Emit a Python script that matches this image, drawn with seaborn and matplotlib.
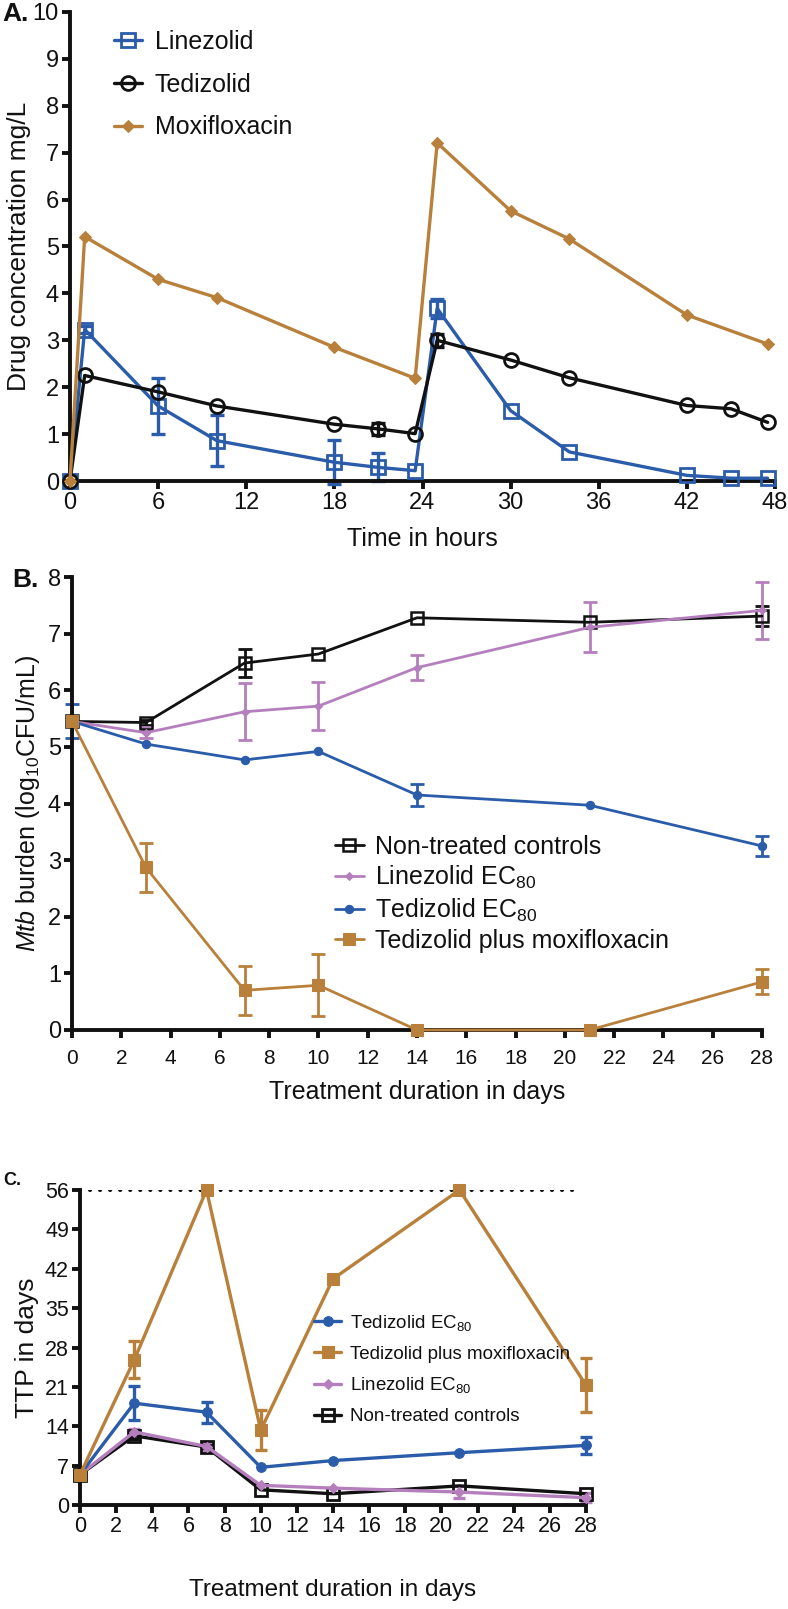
import numpy as np
import pandas as pd
import matplotlib.pyplot as plt
import seaborn as sns

# ---- Panel A: drug concentrations (mg/L) ----
pk_hours = [0, 1, 6, 10, 18, 21, 23.5, 25, 30, 34, 42, 45, 47.5]
lzd_conc = [0, 3.23, 1.6, 0.86, 0.4, 0.29, 0.22, 3.68, 1.5, 0.62, 0.12, 0.06, 0.06]
lzd_err = [0, 0.08, 0.6, 0.55, 0.47, 0.3, 0, 0.2, 0, 0, 0, 0, 0]
tzd_conc = [0, 2.25, 1.9, 1.6, 1.21, 1.11, 1.01, 3.0, 2.58, 2.2, 1.61, 1.54, 1.25]
tzd_err = [0, 0, 0, 0, 0, 0.13, 0, 0.14, 0, 0, 0, 0, 0]
moxi_hours = [0, 1, 6, 10, 18, 23.5, 25, 30, 34, 42, 47.5]
moxi_conc = [0, 5.21, 4.3, 3.91, 2.85, 2.19, 7.21, 5.76, 5.16, 3.54, 2.92]

# ---- Panel B: Mtb burden (log10 CFU/mL) ----
days = [0, 3, 7, 10, 14, 21, 28]
cfu_ctrl = [5.45, 5.43, 6.48, 6.64, 7.28, 7.2, 7.31]
cfu_ctrl_err = [0, 0.05, 0.25, 0, 0, 0, 0.17]
cfu_lzd = [5.45, 5.25, 5.62, 5.72, 6.4, 7.11, 7.41]
cfu_lzd_err = [0, 0.1, 0.5, 0.43, 0.22, 0.44, 0.51]
cfu_tzd = [5.45, 5.05, 4.77, 4.92, 4.15, 3.97, 3.25]
cfu_tzd_err = [0.3, 0, 0, 0, 0.2, 0, 0.17]
cfu_combo = [5.45, 2.87, 0.7, 0.79, 0.0, 0.0, 0.85]
cfu_combo_err = [0, 0.43, 0.43, 0.55, 0, 0, 0.22]

# ---- Panel C: time to positivity (days) ----
ttp_limit = 56
ttp_tzd = [5.4, 18.1, 16.5, 6.7, 7.9, 9.3, 10.6]
ttp_tzd_err = [0, 3.0, 1.9, 0, 0, 0, 1.5]
ttp_combo = [5.4, 25.8, 56, 13.3, 40.2, 56, 21.3]
ttp_combo_err = [0, 3.3, 0, 3.6, 0, 0, 4.8]
ttp_lzd = [5.4, 13.0, 10.4, 3.5, 3.0, 2.3, 1.3]
ttp_lzd_err = [0, 0.6, 0.8, 0, 0, 1.0, 0.8]
ttp_ctrl = [5.4, 12.3, 10.3, 2.7, 2.0, 3.4, 2.0]
ttp_ctrl_err = [0, 0.5, 0.6, 0, 0, 0, 0]

BLUE = "#2a5caa"
BROWN = "#b8803a"
PINK = "#b57fbe"
BLACK = "#111111"

sns.set_style("ticks")
plt.rcParams['font.family'] = ['Liberation Sans', 'DejaVu Sans']
plt.rcParams['mathtext.fontset'] = 'custom'
plt.rcParams['mathtext.rm'] = 'Liberation Sans'
plt.rcParams['mathtext.it'] = 'Liberation Sans:italic'
plt.rcParams['text.color'] = BLACK
plt.rcParams['axes.labelcolor'] = BLACK

W, H = 788, 1609
fig = plt.figure(figsize=(W / 100, H / 100), dpi=100)


def box(l, r, t, b):
    return [l / W, 1 - b / H, (r - l) / W, (b - t) / H]


def series(ax, x, y, err, color, lw, cap, **kw):
    df = pd.DataFrame({"x": x, "y": y})
    sns.lineplot(data=df, x="x", y="y", ax=ax, color=color, linewidth=lw,
                 clip_on=False, zorder=3, **kw)
    x = np.asarray(x, float)
    y = np.asarray(y, float)
    e = np.asarray(err, float)
    m = e > 0
    if m.any():
        ax.errorbar(x[m], y[m], yerr=e[m], fmt="none", ecolor=color,
                    elinewidth=lw, capsize=cap, capthick=lw, clip_on=False,
                    zorder=2)


def style(ax, lw, tsize):
    sns.despine(ax=ax)
    for s in ("left", "bottom"):
        ax.spines[s].set_linewidth(lw)
        ax.spines[s].set_color(BLACK)
    ax.tick_params(width=lw, length=6, labelsize=tsize, colors=BLACK, pad=2)


# ---------------- Panel A ----------------
axA = fig.add_axes(box(70, 775, 12, 481))
series(axA, pk_hours, lzd_conc, lzd_err, BLUE, 2.4, 5, marker="s",
       markersize=10, markerfacecolor="none", markeredgecolor=BLUE,
       markeredgewidth=2.0, label="Linezolid")
series(axA, pk_hours, tzd_conc, tzd_err, BLACK, 2.4, 5, marker="o",
       markersize=10, markerfacecolor="none", markeredgecolor=BLACK,
       markeredgewidth=2.0, label="Tedizolid")
series(axA, moxi_hours, moxi_conc, [0] * len(moxi_hours), BROWN, 2.4, 5,
       marker="D", markersize=6, markerfacecolor=BROWN, markeredgecolor=BROWN,
       label="Moxifloxacin")
axA.set_xlim(0, 48)
axA.set_ylim(0, 10)
axA.set_xticks(range(0, 49, 6))
axA.set_yticks(range(0, 11))
style(axA, 2.8, 17)
axA.set_xlabel("Time in hours", fontsize=18, labelpad=9)
axA.set_ylabel("Drug concentration mg/L", fontsize=19, labelpad=1)
axA.legend(loc="upper left", bbox_to_anchor=(0.062, 0.962), frameon=False,
           fontsize=18, labelspacing=0.75, handlelength=1.15,
           handletextpad=0.5, borderpad=0, borderaxespad=0)
fig.text(2 / W, 1 - 2 / H, "A.", fontsize=19, fontweight="bold", va="top")

# ---------------- Panel B ----------------
axB = fig.add_axes(box(72, 762, 577, 1030))
series(axB, days, cfu_ctrl, cfu_ctrl_err, BLACK, 2.0, 5, marker="s",
       markersize=8.5, markerfacecolor="none", markeredgecolor=BLACK,
       markeredgewidth=1.8, label="Non-treated controls")
series(axB, days, cfu_lzd, cfu_lzd_err, PINK, 2.0, 5, marker="D",
       markersize=4.5, markerfacecolor=PINK, markeredgecolor=PINK,
       label="Linezolid EC$_{80}$")
series(axB, days, cfu_tzd, cfu_tzd_err, BLUE, 2.0, 5, marker="o",
       markersize=6, markerfacecolor=BLUE, markeredgecolor=BLUE,
       label="Tedizolid EC$_{80}$")
series(axB, days, cfu_combo, cfu_combo_err, BROWN, 2.0, 5, marker="s",
       markersize=8, markerfacecolor=BROWN, markeredgecolor=BROWN,
       label="Tedizolid plus moxifloxacin")
axB.set_xlim(0, 28)
axB.set_ylim(0, 8)
axB.set_xticks(range(0, 29, 2))
axB.set_yticks(range(0, 9))
style(axB, 2.8, 17)
axB.tick_params(axis="x", labelsize=15, pad=8)
axB.set_xlabel("Treatment duration in days", fontsize=18, labelpad=8)
axB.set_ylabel(r"$\it{Mtb}$ burden (log$_{10}$CFU/mL)", fontsize=18, labelpad=4)
axB.legend(loc="upper left", bbox_to_anchor=(0.381, 0.43), frameon=False,
           fontsize=18, labelspacing=0.2, handlelength=1.15,
           handletextpad=0.45, borderpad=0, borderaxespad=0)
fig.text(12 / W, 1 - 568 / H, "B.", fontsize=19, fontweight="bold", va="top")

# ---------------- Panel C ----------------
axC = fig.add_axes(box(80, 586, 1190, 1505))
axC.hlines(ttp_limit, 0, 27.6, colors=BLACK, linestyles=(0, (0.01, 2.4)),
           linewidth=3.0, capstyle="round", zorder=1)
series(axC, days, ttp_ctrl, ttp_ctrl_err, BLACK, 2.4, 4, marker="s",
       markersize=8.5, markerfacecolor="none", markeredgecolor=BLACK,
       markeredgewidth=2.0, label="Non-treated controls")
series(axC, days, ttp_lzd, ttp_lzd_err, PINK, 2.4, 4, marker="D",
       markersize=5, markerfacecolor=PINK, markeredgecolor=PINK,
       label="Linezolid EC$_{80}$")
series(axC, days, ttp_tzd, ttp_tzd_err, BLUE, 2.4, 4, marker="o",
       markersize=7, markerfacecolor=BLUE, markeredgecolor=BLUE,
       label="Tedizolid EC$_{80}$")
series(axC, days, ttp_combo, ttp_combo_err, BROWN, 2.4, 4, marker="s",
       markersize=8.5, markerfacecolor=BROWN, markeredgecolor=BROWN,
       label="Tedizolid plus moxifloxacin")
axC.set_xlim(0, 28)
axC.set_ylim(0, 56)
axC.set_xticks(range(0, 29, 2))
axC.set_yticks(range(0, 57, 7))
style(axC, 2.8, 15.5)
axC.set_xlabel("Treatment duration in days", fontsize=17.5, labelpad=30)
axC.set_ylabel("TTP in days", fontsize=19, labelpad=4)
h, l = axC.get_legend_handles_labels()
order = [2, 3, 1, 0]
axC.legend([h[i] for i in order], [l[i] for i in order], loc="upper left",
           bbox_to_anchor=(0.463, 0.61), frameon=False, fontsize=13.5,
           labelspacing=0.68, handlelength=1.45, handletextpad=0.45,
           borderpad=0, borderaxespad=0)
fig.text(3 / W, 1 - 1172 / H, "C.", fontsize=13, fontweight="bold", va="top")

fig.savefig("out.png", dpi=100)
